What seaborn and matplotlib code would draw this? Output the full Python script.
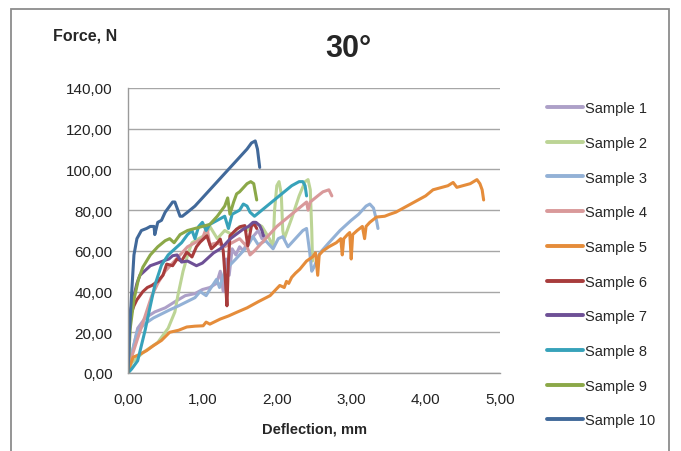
import numpy as np
import pandas as pd
import matplotlib
matplotlib.use("Agg")
import matplotlib.pyplot as plt
import seaborn as sns
from matplotlib.patches import Rectangle
from matplotlib.ticker import FuncFormatter, MultipleLocator

# deflection (mm) / force (N), one pair per sample
s1_d = [0, 0.05, 0.13, 0.23, 0.36, 0.5, 0.63, 0.77, 0.9, 1.0, 1.1, 1.19, 1.24, 1.28, 1.32,
        1.36, 1.4, 1.45, 1.5, 1.55, 1.6, 1.68, 1.75, 1.8, 1.85]
s1_f = [0, 9, 22, 27, 30, 32, 35, 38, 39, 41, 42, 44, 50, 40, 56,
        48, 61, 58, 62, 60, 64, 67, 70, 66, 68]

s2_d = [0, 0.05, 0.2, 0.4, 0.54, 0.63, 0.67, 0.74, 0.81, 0.86, 0.95, 1.05, 1.1, 1.2, 1.3,
        1.4, 1.5, 1.6, 1.7, 1.8, 1.9, 1.95, 1.97, 2.0, 2.03, 2.06, 2.08, 2.1, 2.2, 2.3,
        2.38, 2.42, 2.45, 2.47, 2.48]
s2_f = [0, 5, 10, 15, 22, 30, 38, 50, 59, 64, 66, 68, 72, 66, 70,
        68, 72, 70, 74, 72, 66, 62, 80, 92, 94, 88, 70, 66, 76, 87,
        94, 95, 90, 70, 55]

s3_d = [0, 0.04, 0.12, 0.22, 0.34, 0.45, 0.56, 0.68, 0.79, 0.9, 0.97, 1.05, 1.1, 1.19, 1.23,
        1.3, 1.37, 1.45, 1.5, 1.6, 1.68, 1.75, 1.85, 1.95, 2.02, 2.08, 2.15, 2.25, 2.35,
        2.4, 2.44, 2.47, 2.5, 2.58, 2.7, 2.85, 3.0, 3.1, 3.2, 3.25, 3.3, 3.34, 3.36]
s3_f = [0, 8, 20, 24, 27, 29, 31, 33, 35, 37, 40, 38, 41, 46, 42,
        50, 53, 56, 58, 62, 67, 63, 65, 61, 66, 67, 62, 66, 70,
        71, 60, 50, 52, 59, 64, 70, 75, 78, 82, 83, 81, 75, 71]

s4_d = [0, 0.05, 0.13, 0.23, 0.32, 0.4, 0.5, 0.6, 0.7, 0.8, 0.9, 1.0, 1.06, 1.1, 1.2,
        1.3, 1.4, 1.5, 1.6, 1.64, 1.7, 1.8, 1.9, 2.0, 2.1, 2.2, 2.3, 2.4, 2.42, 2.45,
        2.55, 2.62, 2.7, 2.74]
s4_f = [0, 8, 17, 28, 38, 44, 50, 54, 58, 62, 64, 66, 72, 63, 64,
        62, 64, 66, 62, 58, 60, 64, 68, 72, 75, 78, 81, 84, 80, 84,
        87, 89, 90, 87]

s5_d = [0, 0.03, 0.07, 0.15, 0.25, 0.34, 0.45, 0.56, 0.68, 0.79, 0.9, 1.01, 1.05, 1.1, 1.24,
        1.35, 1.46, 1.6, 1.75, 1.91, 2.04, 2.1, 2.13, 2.16, 2.2, 2.25, 2.31, 2.4, 2.48,
        2.52, 2.55, 2.57, 2.62, 2.7, 2.8, 2.86, 2.88, 2.9, 2.95, 2.98, 3.0, 3.02, 3.08,
        3.15, 3.18, 3.2, 3.25, 3.34, 3.45, 3.52, 3.6, 3.7, 3.8, 3.88, 4.0, 4.1, 4.2, 4.3,
        4.37, 4.42, 4.5, 4.6, 4.69, 4.73, 4.76, 4.78]
s5_f = [0, 4, 7.8, 9, 11, 13.4, 16, 20, 21, 22.6, 23, 23.2, 25, 24, 26.5,
        28, 29.8, 32, 35, 38, 43, 42, 45, 44, 47, 49, 51, 55, 57,
        59, 48, 58, 60, 62, 64, 66, 58, 66, 68, 69, 56, 68, 70,
        72, 66, 72, 74, 76.6, 77, 78, 79, 81, 83, 84.6, 87, 90, 91, 92,
        93.6, 91.2, 92, 93, 95, 93, 90, 85]

s6_d = [0, 0.01, 0.03, 0.08, 0.12, 0.16, 0.2, 0.26, 0.32, 0.4, 0.47, 0.52, 0.6, 0.66, 0.72,
        0.79, 0.86, 0.92, 0.97, 1.06, 1.12, 1.18, 1.24, 1.28, 1.31, 1.33, 1.35, 1.37, 1.46,
        1.52, 1.57, 1.61, 1.66, 1.7, 1.73]
s6_f = [0, 15, 28, 33, 36, 38, 40, 42, 43, 45, 48, 53.5, 52.7, 56, 55,
        59.4, 57, 62, 64.3, 67.4, 61, 63, 65.8, 60, 45, 33, 55, 67.4, 70.7,
        72, 72.4, 62.5, 72.4, 73, 71]

s7_d = [0, 0.01, 0.03, 0.08, 0.12, 0.16, 0.22, 0.3, 0.4, 0.47, 0.55, 0.6, 0.66, 0.72, 0.8,
        0.92, 1.0, 1.06, 1.15, 1.24, 1.3, 1.37, 1.45, 1.55, 1.62, 1.68, 1.72, 1.77, 1.8, 1.82]
s7_f = [0, 12, 30, 38, 44, 48, 50, 52.7, 54, 55, 56, 57.6, 58, 54.5, 55,
        52.7, 54, 56, 59, 61, 63, 65.8, 68, 70.7, 72, 74, 74, 72.4, 70, 67.4]

s8_d = [0, 0.05, 0.13, 0.23, 0.3, 0.36, 0.45, 0.54, 0.63, 0.72, 0.8, 0.86, 0.9, 0.95, 1.0,
        1.05, 1.1, 1.2, 1.3, 1.35, 1.4, 1.5, 1.55, 1.6, 1.64, 1.7, 1.8, 1.9, 2.0, 2.1,
        2.2, 2.3, 2.35, 2.38, 2.4]
s8_f = [0, 2, 6, 21, 33, 43, 53, 58, 61, 64, 68, 70, 66, 72, 74,
        70, 73, 75, 77, 71, 78, 80, 83, 82, 79, 77, 80, 83, 86, 89,
        92, 94, 94, 92, 87]

s9_d = [0, 0.03, 0.08, 0.14, 0.2, 0.3, 0.4, 0.5, 0.56, 0.62, 0.7, 0.8, 0.9, 1.0, 1.1,
        1.2, 1.3, 1.34, 1.37, 1.42, 1.46, 1.5, 1.55, 1.6, 1.65, 1.69, 1.71, 1.73]
s9_f = [0, 22, 36, 46, 52, 58, 62, 65, 66, 64, 68, 70, 71, 72, 73,
        77, 82, 86, 78, 84, 88, 89, 91, 93, 94, 93, 89, 85]

s10_d = [0, 0.02, 0.05, 0.08, 0.12, 0.18, 0.25, 0.3, 0.35, 0.36, 0.4, 0.45, 0.5, 0.56, 0.6,
         0.63, 0.67, 0.7, 0.73, 0.8, 0.9, 1.0, 1.1, 1.2, 1.3, 1.4, 1.5, 1.6, 1.66, 1.71,
         1.74, 1.76, 1.77]
s10_f = [0, 20, 40, 58, 66, 70, 71, 72, 72, 68, 74, 75, 79, 82, 84,
         84, 80, 77, 77, 79, 82, 86, 90, 94, 98, 102, 106, 110, 113, 114,
         110, 104, 101]

samples = [f"Sample {i}" for i in range(1, 11)]
deflections = [s1_d, s2_d, s3_d, s4_d, s5_d, s6_d, s7_d, s8_d, s9_d, s10_d]
forces = [s1_f, s2_f, s3_f, s4_f, s5_f, s6_f, s7_f, s8_f, s9_f, s10_f]
colors = ["#ADA0C8", "#BCD495", "#93B1D6", "#D9999A", "#E58C3A",
          "#A83C3C", "#6E5096", "#37A2BA", "#8BA848", "#41699A"]

df = pd.concat(
    [pd.DataFrame({"Deflection": d, "Force": f, "Sample": s})
     for s, d, f in zip(samples, deflections, forces)],
    ignore_index=True,
)

sns.set_theme(style="white")
plt.rcParams["font.family"] = ["Liberation Sans", "DejaVu Sans"]

fig = plt.figure(figsize=(6.81, 4.52), dpi=100)
ax = fig.add_axes([128 / 681, 1 - 374 / 452, 372 / 681, 285 / 452])

sns.lineplot(data=df, x="Deflection", y="Force", hue="Sample", palette=colors,
             sort=False, estimator=None, linewidth=2.2, ax=ax)

ax.set_xlim(0, 5)
ax.set_ylim(0, 140)
ax.xaxis.set_major_locator(MultipleLocator(1))
ax.yaxis.set_major_locator(MultipleLocator(20))
fmt = FuncFormatter(lambda v, p: f"{v:.2f}".replace(".", ","))
ax.xaxis.set_major_formatter(fmt)
ax.yaxis.set_major_formatter(fmt)
ax.tick_params(axis="both", length=0, labelsize=11, colors="#222222")
ax.tick_params(axis="y", pad=11)
ax.tick_params(axis="x", pad=14)
ax.grid(axis="y", color="#A6A6A6", linewidth=1)
ax.set_axisbelow(True)
for side in ["top", "right"]:
    ax.spines[side].set_visible(False)
for side in ["left", "bottom"]:
    ax.spines[side].set_color("#9A9A9A")
    ax.spines[side].set_linewidth(1)
ax.set_xlabel("Deflection, mm", fontsize=10.5, fontweight="bold", labelpad=11)
ax.set_ylabel("")

sns.move_legend(ax, loc="upper left", bbox_to_anchor=(1.09, 1.0), frameon=False,
                title=None, fontsize=10.5, labelspacing=1.42, handlelength=2.5,
                handletextpad=0.1)
for line in ax.get_legend().get_lines():
    line.set_linewidth(2.8)

fig.text(85 / 681, 1 - 36 / 452, "Force, N", fontsize=11.5, fontweight="bold",
         ha="center", va="center")
fig.text(348 / 681, 1 - 49 / 452, "30°", fontsize=22, fontweight="bold",
         ha="center", va="center")

fig.patches.append(Rectangle((11 / 681, -0.05), 658 / 681, 1.05 - 10 / 452,
                             transform=fig.transFigure, fill=False,
                             edgecolor="#8C8C8C", linewidth=1.3))

fig.savefig("out.png", dpi=100)
